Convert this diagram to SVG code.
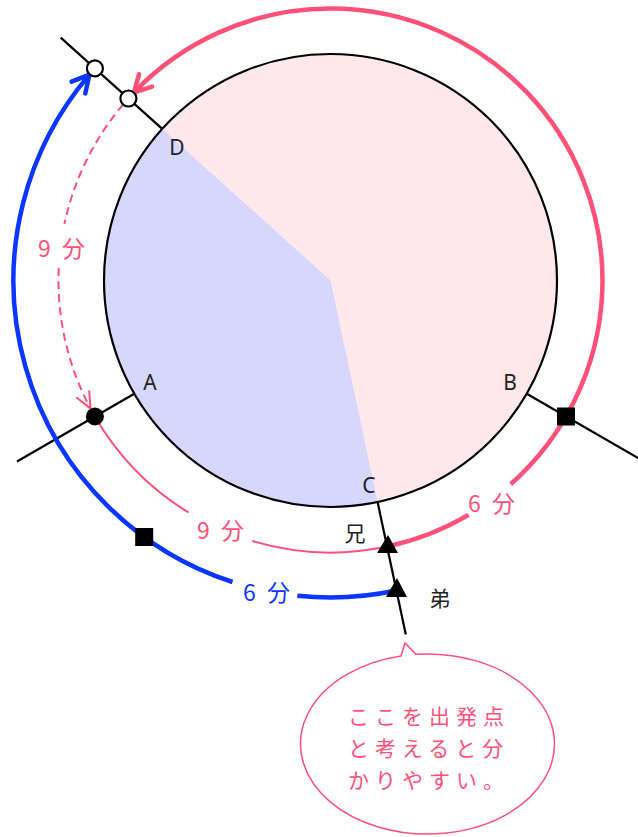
<svg xmlns="http://www.w3.org/2000/svg" width="638" height="837" viewBox="0 0 638 837">
<style>
.ln{stroke:#000;stroke-width:2.2;fill:none}
.pk{stroke:#ff5078;fill:none;stroke-linecap:butt}
.thick{stroke-width:4.5}
.thin{stroke-width:2}
.bl{stroke:#0a36ff;stroke-width:4.5;fill:none}
.lbl{font-family:"Noto Sans CJK JP","Noto Sans",sans-serif;font-size:23px;letter-spacing:3px;text-anchor:middle}
.let{font-family:"Noto Sans","DejaVu Sans",sans-serif;font-size:21px;text-anchor:middle;fill:#222}
.cj{font-family:"Noto Sans CJK JP",sans-serif;font-size:21px;text-anchor:middle;fill:#222}
.call{font-family:"Noto Sans CJK JP",sans-serif;font-size:21px;letter-spacing:6px;fill:#ff5078}
</style>
<defs>
<marker id="ahPk" viewBox="-20 -15 30 30" markerWidth="30" markerHeight="30" refX="0" refY="0" orient="auto" markerUnits="userSpaceOnUse" overflow="visible">
<path d="M-17,-9 L0,0 L-17,9" fill="none" stroke="#ff5078" stroke-width="4.5" stroke-linecap="round" stroke-linejoin="round"/>
</marker>
<marker id="ahBl" viewBox="-20 -15 30 30" markerWidth="30" markerHeight="30" refX="0" refY="0" orient="auto" markerUnits="userSpaceOnUse" overflow="visible">
<path d="M-17,-9 L0,0 L-17,9" fill="none" stroke="#0a36ff" stroke-width="4.5" stroke-linecap="round" stroke-linejoin="round"/>
</marker>
<marker id="ahThin" viewBox="-20 -15 30 30" markerWidth="30" markerHeight="30" refX="0" refY="0" orient="auto" markerUnits="userSpaceOnUse" overflow="visible">
<path d="M-16,-7 L0,0 L-16,7" fill="none" stroke="#ff5078" stroke-width="2" stroke-linecap="round" stroke-linejoin="round"/>
</marker>
</defs>
<rect width="638" height="837" fill="#fff"/>
<g id="circle">
<circle cx="330.5" cy="280.5" r="226.5" fill="#ffe8ec"/>
<path d="M330.5,280.5 L162.2,128.9 A226.5,226.5 0 0 0 377.6,502.1 Z" fill="#d5d7fd"/>
<circle cx="330.5" cy="280.5" r="226.5" class="ln"/>
</g>
<g id="connectors">
<line class="ln" x1="162.2" y1="128.9" x2="60.7" y2="37.6"/>
<line class="ln" x1="134.3" y1="393.75" x2="17" y2="461.5"/>
<line class="ln" x1="526.7" y1="393.75" x2="644" y2="461.5"/>
<line class="ln" x1="377.6" y1="502.1" x2="405.8" y2="634.6"/>
<path class="pk thick" d="M387.05,546.56 A272,272 0 0 0 468.55,514.86"/>
<path class="pk thick" d="M510.73,484.22 A272,272 0 1 0 133.85,92.58" marker-end="url(#ahPk)"/>
<path class="pk thin" d="M94.94,416.5 A272,272 0 0 0 188.38,512.42"/>
<path class="pk thin" d="M252.34,541.03 A272,272 0 0 0 387.05,546.56"/>
<path class="pk thin" stroke-dasharray="8,5" d="M123.05,104.58 A272,272 0 0 0 64.44,223.95"/>
<path class="pk thin" stroke-dasharray="8,5" d="M58.78,268.16 A272,272 0 0 0 90.56,408.61" marker-end="url(#ahThin)"/>
<path class="bl" d="M396.41,590.57 A317,317 0 0 1 297.36,595.76"/>
<path class="bl" d="M232.54,581.99 A317,317 0 0 1 89.45,74.62" marker-end="url(#ahBl)"/>
</g>
<g id="markers">
<circle cx="94.9" cy="68.4" r="8" fill="#fff" stroke="#000" stroke-width="2.2"/>
<circle cx="128.4" cy="98.5" r="8" fill="#fff" stroke="#000" stroke-width="2.2"/>
<circle cx="94.9" cy="416.5" r="9" fill="#000"/>
<rect x="557" y="407.5" width="18" height="18" fill="#000"/>
<rect x="135.2" y="528" width="18" height="18" fill="#000"/>
<polygon points="388,535 377,553 398,553" fill="#000"/>
<polygon points="397,578 386,597 407,597" fill="#000"/>
</g>
<g id="labels">
<text class="let" x="177" y="155">D</text>
<text class="let" x="150" y="390">A</text>
<text class="let" x="510" y="390">B</text>
<text class="let" x="369" y="493">C</text>
<text class="cj" x="355" y="541">兄</text>
<text class="cj" x="440" y="606">弟</text>
<text class="lbl" x="63" y="257" fill="#ff5078">9 分</text>
<text class="lbl" x="222" y="539" fill="#ff5078">9 分</text>
<text class="lbl" x="493" y="512" fill="#ff5078">6 分</text>
<text class="lbl" x="268" y="601" fill="#0a36ff">6 分</text>
</g>
<g id="callout">
<path d="M416,654.37 A127,90 0 1 1 401,655.98 L405,643 Z" fill="#fff" stroke="#ff5078" stroke-width="1.5"/>
<text class="call" x="348" y="724">ここを出発点</text>
<text class="call" x="348" y="756">と考えると分</text>
<text class="call" x="348" y="788">かりやすい。</text>
</g>
</svg>
